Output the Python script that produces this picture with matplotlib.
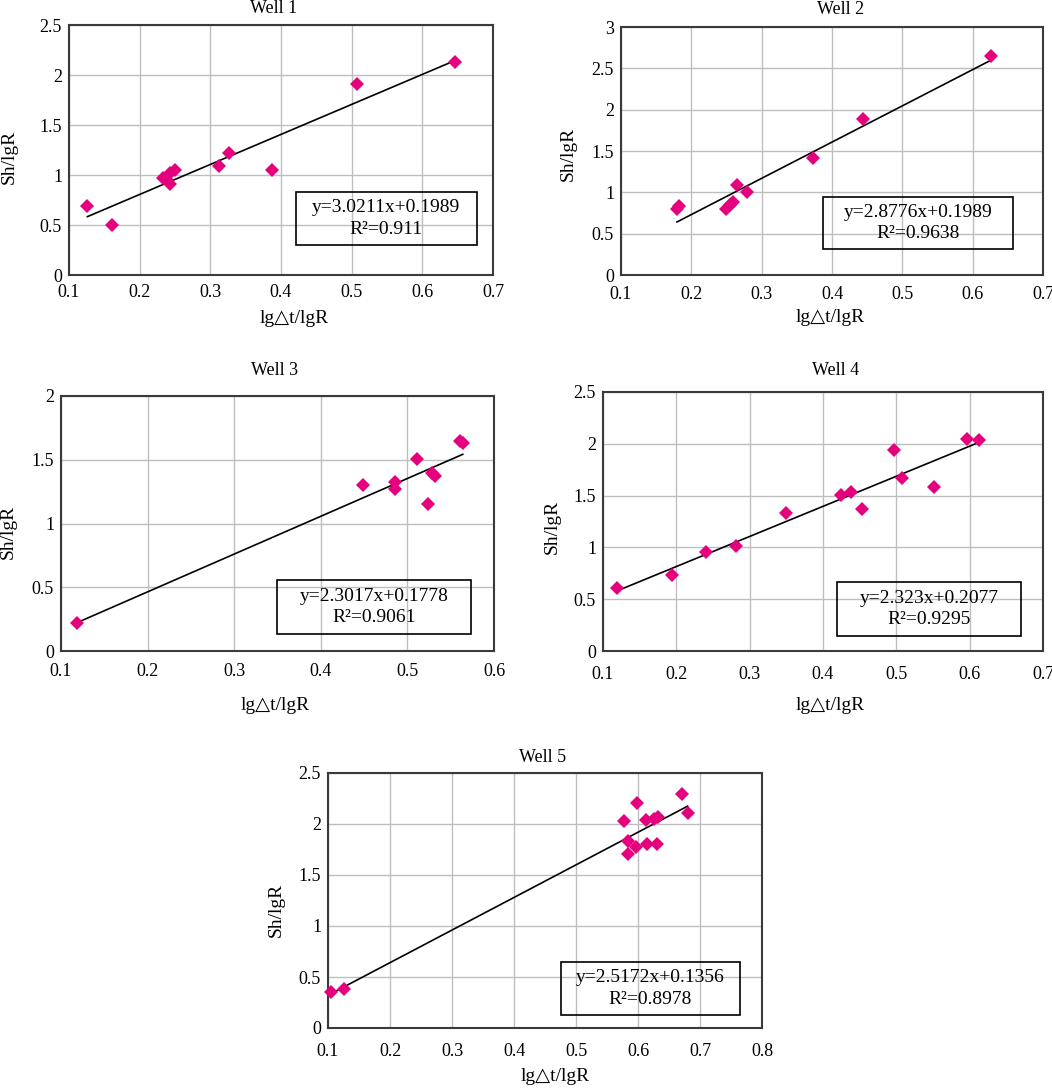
"""Five-well crossplots of Sh/lgR against lg(dt)/lgR with linear trend lines."""
import matplotlib
matplotlib.use("Agg")
import matplotlib.pyplot as plt
from matplotlib.patches import Rectangle
import numpy as np

plt.rcParams["font.family"] = ["Liberation Serif", "DejaVu Sans"]

# ----- data -----
WELL1_X = [0.126, 0.161, 0.233, 0.238, 0.243, 0.250, 0.243, 0.3125, 0.327, 0.3866, 0.508, 0.646]
WELL1_Y = [0.69, 0.497, 0.97, 0.95, 1.02, 1.05, 0.91, 1.09, 1.223, 1.047, 1.91, 2.133]

WELL2_X = [0.1796, 0.183, 0.2498, 0.2555, 0.259, 0.2654, 0.279, 0.373, 0.444, 0.6265]
WELL2_Y = [0.80, 0.836, 0.796, 0.848, 0.88, 1.086, 1.0, 1.415, 1.886, 2.65]

WELL3_X = [0.119, 0.449, 0.486, 0.486, 0.511, 0.528, 0.5316, 0.524, 0.561, 0.564]
WELL3_Y = [0.222, 1.303, 1.322, 1.268, 1.503, 1.395, 1.373, 1.150, 1.650, 1.632]

WELL4_X = [0.1185, 0.194, 0.241, 0.282, 0.349, 0.425, 0.438, 0.453, 0.4965, 0.508, 0.551, 0.596, 0.613]
WELL4_Y = [0.609, 0.731, 0.952, 1.016, 1.33, 1.51, 1.538, 1.372, 1.942, 1.667, 1.583, 2.051, 2.038]

WELL5_X = [0.1043, 0.1257, 0.598, 0.5776, 0.6137, 0.6256, 0.632, 0.6708, 0.68,
           0.5845, 0.5846, 0.596, 0.614, 0.630]
WELL5_Y = [0.351, 0.384, 2.206, 2.025, 2.035, 2.049, 2.065, 2.294, 2.108,
           1.83, 1.706, 1.775, 1.80, 1.80]

TITLES = ["Well 1", "Well 2", "Well 3", "Well 4", "Well 5"]
EQUATIONS = ["y=3.0211x+0.1989", "y=2.8776x+0.1989", "y=2.3017x+0.1778",
             "y=2.323x+0.2077", "y=2.5172x+0.1356"]
R2_LABELS = ["R²=0.911", "R²=0.9638", "R²=0.9061", "R²=0.9295", "R²=0.8978"]
X_TICKS = [[0.1, 0.2, 0.3, 0.4, 0.5, 0.6, 0.7],
           [0.1, 0.2, 0.3, 0.4, 0.5, 0.6, 0.7],
           [0.1, 0.2, 0.3, 0.4, 0.5, 0.6],
           [0.1, 0.2, 0.3, 0.4, 0.5, 0.6, 0.7],
           [0.1, 0.2, 0.3, 0.4, 0.5, 0.6, 0.7, 0.8]]
Y_TICKS = [[0, 0.5, 1, 1.5, 2, 2.5],
           [0, 0.5, 1, 1.5, 2, 2.5, 3],
           [0, 0.5, 1, 1.5, 2],
           [0, 0.5, 1, 1.5, 2, 2.5],
           [0, 0.5, 1, 1.5, 2, 2.5]]
X_LABEL = "lg△t/lgR"
Y_LABEL = "Sh/lgR"

WELLS_X = [WELL1_X, WELL2_X, WELL3_X, WELL4_X, WELL5_X]
WELLS_Y = [WELL1_Y, WELL2_Y, WELL3_Y, WELL4_Y, WELL5_Y]

# ----- layout (pixels in a 1052x1089 canvas) -----
FIG_W, FIG_H = 1052, 1089
# left, top, right, bottom of the plot area
RECTS = [(69, 25, 493, 275), (621, 27, 1043, 275), (61, 396, 494, 651),
         (603, 392, 1043, 651), (328, 773, 762, 1028)]
# equation box in axes fraction: x0, y0, x1, y1
BOXES = [(0.535, 0.12, 0.962, 0.332), (0.479, 0.106, 0.930, 0.315),
         (0.498, 0.067, 0.948, 0.278), (0.532, 0.058, 0.950, 0.268),
         (0.536, 0.050, 0.950, 0.259)]
TITLE_POS = [(0.483, 1.065), (0.520, 1.071), (0.494, 1.100), (0.528, 1.082), (0.495, 1.060)]
XLABEL_POS = [(0.530, -0.172), (0.496, -0.172), (0.494, -0.212), (0.516, -0.212), (0.523, -0.190)]
YLABEL_POS = [(-0.141, 0.472), (-0.125, 0.490), (-0.121, 0.465), (-0.116, 0.480), (-0.120, 0.464)]
XPAD = [6.5, 8, 8.5, 11, 10.5]

MARKER_COLOR = "#E5007E"
GRID_COLOR = "#BEBEBE"
SPINE_COLOR = "#3A3A3A"


def main() -> None:
    fig = plt.figure(figsize=(FIG_W / 100, FIG_H / 100), dpi=100)

    for i in range(5):
        l, t, r, b = RECTS[i]
        ax = fig.add_axes([l / FIG_W, 1 - b / FIG_H, (r - l) / FIG_W, (b - t) / FIG_H])
        xs = np.array(WELLS_X[i])
        ys = np.array(WELLS_Y[i])

        ax.set_xlim(X_TICKS[i][0], X_TICKS[i][-1])
        ax.set_ylim(Y_TICKS[i][0], Y_TICKS[i][-1])
        ax.set_xticks(X_TICKS[i])
        ax.set_yticks(Y_TICKS[i])
        ax.set_xticklabels([f"{v:g}" for v in X_TICKS[i]])
        ax.set_yticklabels([f"{v:g}" for v in Y_TICKS[i]])
        ax.tick_params(axis="both", length=0, labelsize=13)
        ax.tick_params(axis="x", pad=XPAD[i])
        ax.tick_params(axis="y", pad=5)
        ax.grid(True, color=GRID_COLOR, linewidth=1.0)
        ax.set_axisbelow(True)
        for sp in ax.spines.values():
            sp.set_color(SPINE_COLOR)
            sp.set_linewidth(1.5)

        # linear trend line through the points
        k, c = np.polyfit(xs, ys, 1)
        lx = np.array([xs.min(), xs.max()])
        ax.plot(lx, k * lx + c, color="black", linewidth=1.2, zorder=3)

        ax.plot(xs, ys, linestyle="none", marker="D", markersize=7.4,
                color=MARKER_COLOR, markeredgewidth=0, zorder=4, clip_on=False)

        x0, y0, x1, y1 = BOXES[i]
        ax.add_patch(Rectangle((x0, y0), x1 - x0, y1 - y0, transform=ax.transAxes,
                               facecolor="none", edgecolor="black", linewidth=1.2, zorder=5))
        ax.text((x0 + x1) / 2, (y0 + y1) / 2, f"{EQUATIONS[i]}\n{R2_LABELS[i]}",
                transform=ax.transAxes, ha="center", va="center", fontsize=14,
                linespacing=1.35, zorder=6)

        ax.set_title(TITLES[i], fontsize=13, x=TITLE_POS[i][0], y=TITLE_POS[i][1],
                     va="center", pad=0)
        ax.set_xlabel(X_LABEL, fontsize=14)
        ax.set_ylabel(Y_LABEL, fontsize=14)
        ax.xaxis.set_label_coords(*XLABEL_POS[i])
        ax.yaxis.set_label_coords(*YLABEL_POS[i])
        ax.xaxis.label.set_va("center")
        ax.yaxis.label.set_va("center")

    fig.savefig("out.png", dpi=100)


if __name__ == "__main__":
    main()
